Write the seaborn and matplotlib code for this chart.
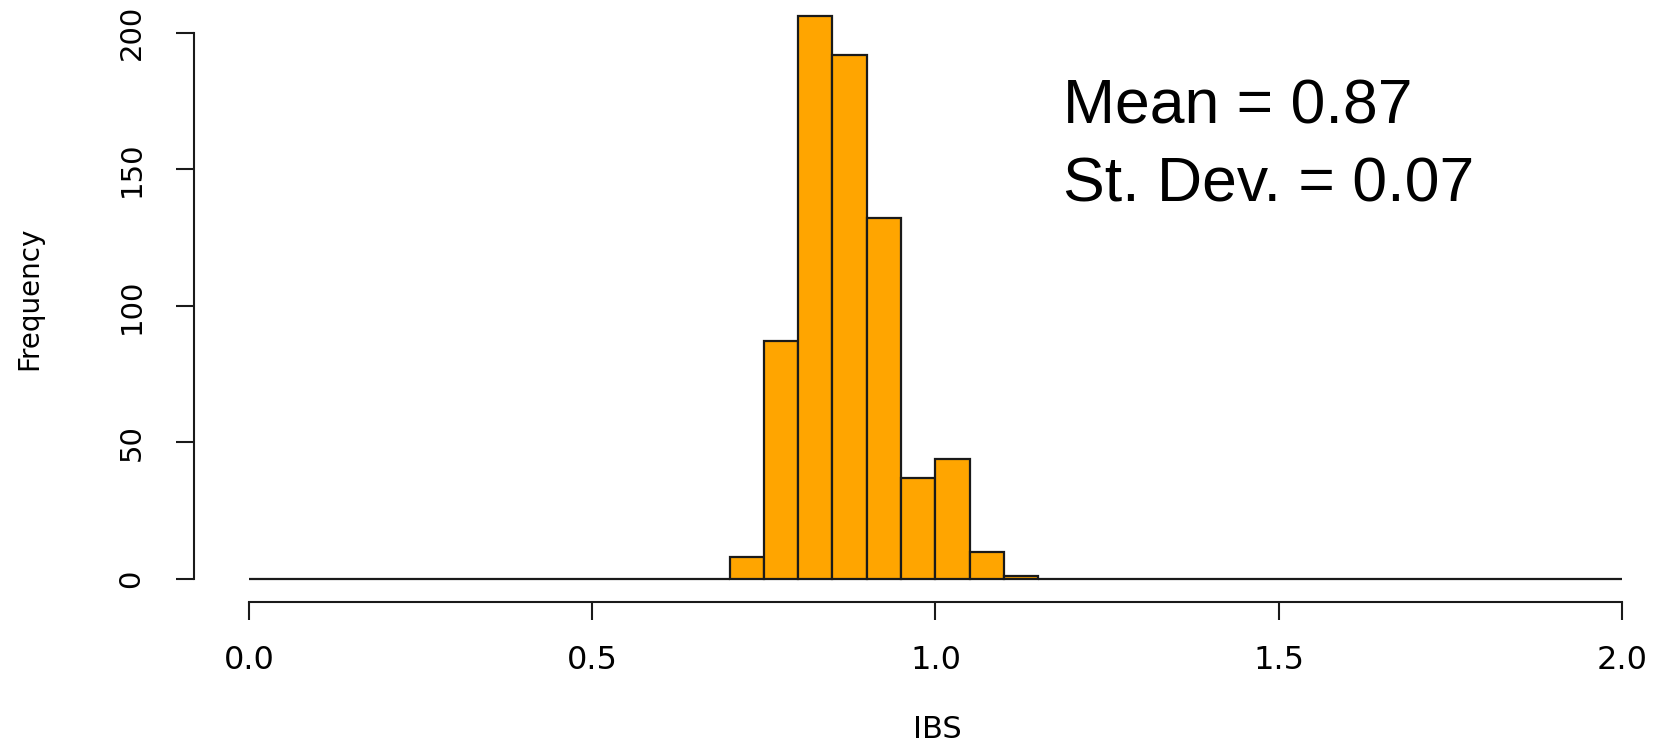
import numpy as np
import pandas as pd
import seaborn as sns
import matplotlib.pyplot as plt

# histogram of IBS values, bins of width 0.05 on [0, 2]
bin_starts = [0.70, 0.75, 0.80, 0.85, 0.90, 0.95, 1.00, 1.05, 1.10]
bin_counts = [8, 87, 206, 192, 132, 37, 44, 10, 1]

x_ticks = [0.0, 0.5, 1.0, 1.5, 2.0]
x_tick_labels = ["0.0", "0.5", "1.0", "1.5", "2.0"]
y_ticks = [0, 50, 100, 150, 200]

mean_text = "Mean = 0.87"
sd_text = "St. Dev. = 0.07"

# every bin gets a row so empty bins draw as the flat R-style baseline
centers = np.arange(40) * 0.05 + 0.025
weights = np.zeros(40)
for s, c in zip(bin_starts, bin_counts):
    weights[int(round(s / 0.05))] = c
df = pd.DataFrame({"IBS": centers, "count": weights})

sns.set_style("white")
plt.rcParams['font.family'] = ['DejaVu Sans']
plt.rcParams['text.color'] = 'black'
plt.rcParams['axes.labelcolor'] = 'black'
plt.rcParams['xtick.color'] = 'black'
plt.rcParams['ytick.color'] = 'black'

W, H = 1667, 745
fig = plt.figure(figsize=(W / 100, H / 100), dpi=100)
ax = fig.add_axes([194 / W, 143 / H, 1473 / W, 602 / H])

sns.histplot(data=df, x="IBS", weights="count", binwidth=0.05, binrange=(0, 2),
             color="#FFA500", edgecolor="#1a1a1a", linewidth=1.6, alpha=1, ax=ax)

ax.set_xlim(-0.080, 2.0655)
ax.set_ylim(-8.42, 212)

for side in ["top", "right"]:
    ax.spines[side].set_visible(False)
ax.spines["left"].set_bounds(0, 200)
ax.spines["bottom"].set_bounds(0, 2)
for side in ["left", "bottom"]:
    ax.spines[side].set_linewidth(1.5)
    ax.spines[side].set_color("#1a1a1a")

ax.set_xticks(x_ticks)
ax.set_xticklabels(x_tick_labels, fontsize=23)
ax.set_yticks(y_ticks)
ax.set_yticklabels([str(v) for v in y_ticks], rotation=90, va="center", fontsize=21)
ax.tick_params(axis="both", which="major", bottom=True, left=True, length=13,
               width=1.5, color="#1a1a1a", direction="out")
ax.tick_params(axis="x", pad=18)
ax.tick_params(axis="y", pad=22)

ax.set_xlabel("IBS", fontsize=22)
ax.set_ylabel("Frequency", fontsize=20)
ax.xaxis.set_label_coords(937 / W, 1 - 715 / H, transform=fig.transFigure)
ax.yaxis.set_label_coords(43 / W, 1 - 298 / H, transform=fig.transFigure)

fig.text(1063 / W, 1 - 123 / H, mean_text, fontsize=45,
         family=["Liberation Sans"], va="baseline", ha="left")
fig.text(1063 / W, 1 - 202 / H, sd_text, fontsize=45,
         family=["Liberation Sans"], va="baseline", ha="left")

fig.savefig("out.png", dpi=100)
plt.close()
